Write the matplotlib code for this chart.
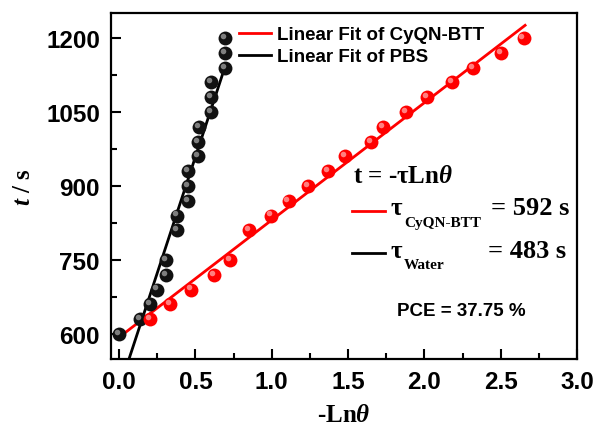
import numpy as np
import matplotlib
matplotlib.use("Agg")
import matplotlib.pyplot as plt
from matplotlib.lines import Line2D
from matplotlib.transforms import offset_copy
from matplotlib.ticker import MultipleLocator

plt.rcParams['font.family'] = ['Liberation Sans', 'DejaVu Sans']
plt.rcParams['font.weight'] = 'bold'
plt.rcParams['mathtext.fontset'] = 'custom'
plt.rcParams['mathtext.it'] = 'Liberation Serif:italic:bold'
plt.rcParams['mathtext.rm'] = 'Liberation Serif:bold'

# data
x_pbs = [0.0, 0.14, 0.20, 0.25, 0.31, 0.31, 0.38, 0.38, 0.45, 0.45, 0.45,
         0.52, 0.52, 0.525, 0.605, 0.605, 0.605, 0.693, 0.693, 0.693]
t_pbs = [600, 630, 660, 690, 720, 750, 810, 840, 870, 900, 930,
         960, 990, 1020, 1050, 1080, 1110, 1140, 1170, 1200]
x_cyqn = [0.20, 0.336, 0.47, 0.62, 0.726, 0.851, 0.993, 1.11, 1.24, 1.37,
          1.48, 1.65, 1.73, 1.88, 2.02, 2.18, 2.32, 2.50, 2.65]
t_cyqn = [630, 660, 690, 720, 750, 810, 840, 870, 900, 930,
          960, 990, 1020, 1050, 1080, 1110, 1140, 1170, 1200]

# fit lines (end points)
fit_cyqn_x = [0.0, 2.66]
fit_cyqn_t = [593, 1226]
fit_pbs_x = [0.066, 0.693]
fit_pbs_t = [550, 1141]

W, H = 598, 435
fig = plt.figure(figsize=(W / 100, H / 100), dpi=100)
ax = fig.add_axes([111 / W, 1 - 360 / H, 466 / W, 346 / H])


def sphere(xs, ys, base, light):
    ax.plot(xs, ys, 'o', ms=10, color=base, mec='none', zorder=3)
    shift = offset_copy(ax.transData, fig=fig, x=-1.5, y=1.5, units='points')
    ax.plot(xs, ys, 'o', ms=4, color=light, mec='none', alpha=0.8,
            transform=shift, zorder=4)


ax.plot(fit_cyqn_x, fit_cyqn_t, color='#ff0000', lw=2, zorder=2,
        label='Linear Fit of CyQN-BTT')
ax.plot(fit_pbs_x, fit_pbs_t, color='black', lw=2, zorder=2,
        label='Linear Fit of PBS')
sphere(x_pbs, t_pbs, '#111111', '#9a9a9a')
sphere(x_cyqn, t_cyqn, '#ff0000', '#ffa0a0')

ax.set_xlim(-0.053, 3.0)
ax.set_ylim(549, 1251)
ax.xaxis.set_major_locator(MultipleLocator(0.5))
ax.xaxis.set_minor_locator(MultipleLocator(0.25))
ax.yaxis.set_major_locator(MultipleLocator(150))
ax.yaxis.set_minor_locator(MultipleLocator(75))
ax.set_xticks(np.arange(0, 3.01, 0.5))
ax.set_xticklabels(['0.0', '0.5', '1.0', '1.5', '2.0', '2.5', '3.0'])
ax.tick_params(which='major', direction='in', length=7, width=1.5,
               labelsize=17.5, pad=8)
ax.tick_params(which='minor', direction='in', length=4, width=1.5)
for s in ax.spines.values():
    s.set_linewidth(1.6)

ax.set_xlabel(r'-Ln$\theta$', fontfamily='Liberation Serif', fontsize=18,
              fontweight='bold', labelpad=7)
ax.set_ylabel(r'$t$ / s', fontfamily='Liberation Serif', fontsize=18,
              fontweight='bold', labelpad=8)

ax.legend(loc='upper left', bbox_to_anchor=(115 / 466, 1.0), frameon=False,
          fontsize=13.5, handlelength=1.7, handletextpad=0.3,
          labelspacing=0.25, borderaxespad=0.3)

# formula block
serif = dict(fontfamily='Liberation Serif', fontweight='bold')
fig.text(353 / W, 1 - 177 / H, r't = -τLn$\theta$', fontsize=18,
         va='center', ha='left', **serif)
fig.add_artist(Line2D([352 / W, 385 / W], [1 - 212 / H, 1 - 212 / H],
                      color='#ff0000', lw=2))
fig.add_artist(Line2D([352 / W, 385 / W], [1 - 254 / H, 1 - 254 / H],
                      color='black', lw=2))
fig.text(391 / W, 1 - 209 / H, 'τ', fontsize=18, va='center', ha='left', **serif)
fig.text(404 / W, 1 - 224 / H, 'CyQN-BTT', fontsize=11, va='center', ha='left', **serif)
fig.text(491 / W, 1 - 209 / H, '= 592 s', fontsize=19, va='center', ha='left', **serif)
fig.text(391 / W, 1 - 251 / H, 'τ', fontsize=18, va='center', ha='left', **serif)
fig.text(404 / W, 1 - 266 / H, 'Water', fontsize=11, va='center', ha='left', **serif)
fig.text(488 / W, 1 - 251 / H, '= 483 s', fontsize=19, va='center', ha='left', **serif)
fig.text(397 / W, 1 - 312 / H, 'PCE = 37.75 %', fontsize=13.5, va='center',
         ha='left', fontweight='bold')

fig.savefig('out.png', dpi=100)
